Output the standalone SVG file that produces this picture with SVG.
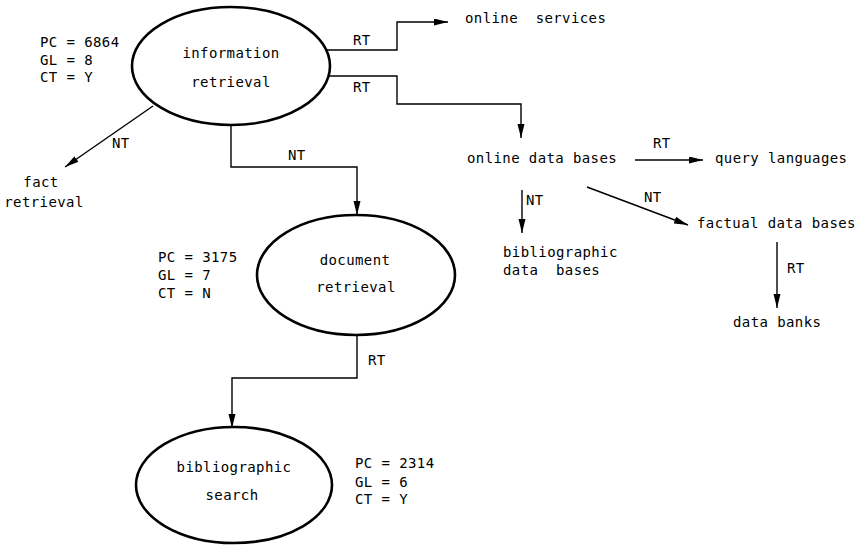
<svg xmlns="http://www.w3.org/2000/svg" width="857" height="545" viewBox="0 0 857 545">
<defs>
<style>
text{font-family:"DejaVu Sans Mono","Liberation Mono",monospace;font-size:14px;letter-spacing:0.4px;fill:#000;white-space:pre}
.node{fill:#fff;stroke:#000;stroke-width:2.6}
.c{fill:none;stroke:#000;stroke-width:1.4}
.m{text-anchor:middle}
</style>
<marker id="ah" markerUnits="userSpaceOnUse" markerWidth="15" markerHeight="8" refX="14" refY="3.5" orient="auto">
<path d="M0,0 L14,3.5 L0,7 Z" fill="#000"/>
</marker>
</defs>
<rect width="857" height="545" fill="#fff"/>
<g id="connectors">
<path class="c" d="M327,50 H397 V22 H448" marker-end="url(#ah)"/>
<path class="c" d="M327,76 H397 V104 H521 V138" marker-end="url(#ah)"/>
<path class="c" d="M153,106 L65,167" marker-end="url(#ah)"/>
<path class="c" d="M231,124 V167 H357 V215" marker-end="url(#ah)"/>
<path class="c" d="M635,160 H703" marker-end="url(#ah)"/>
<path class="c" d="M522,190 V233" marker-end="url(#ah)"/>
<path class="c" d="M587,187 L688,225" marker-end="url(#ah)"/>
<path class="c" d="M777,242 V308" marker-end="url(#ah)"/>
<path class="c" d="M357,335 V378 H232 V428" marker-end="url(#ah)"/>
<text x="353" y="45">RT</text>
<text x="353" y="92">RT</text>
<text x="112" y="148">NT</text>
<text x="288" y="160">NT</text>
<text x="653" y="148">RT</text>
<text x="526" y="205">NT</text>
<text x="644" y="202">NT</text>
<text x="787" y="273">RT</text>
<text x="368" y="365">RT</text>
</g>
<g id="information-retrieval">
<ellipse class="node" cx="231" cy="66" rx="99" ry="59"/>
<text class="m" x="231" y="58">information</text>
<text class="m" x="231" y="87">retrieval</text>
<text x="40" y="47">PC = 6864</text>
<text x="40" y="65">GL = 8</text>
<text x="40" y="82">CT = Y</text>
</g>
<g id="document-retrieval">
<ellipse class="node" cx="356" cy="275" rx="99" ry="60"/>
<text class="m" x="355" y="265">document</text>
<text class="m" x="356" y="292">retrieval</text>
<text x="158" y="262">PC = 3175</text>
<text x="158" y="280">GL = 7</text>
<text x="158" y="298">CT = N</text>
</g>
<g id="bibliographic-search">
<ellipse class="node" cx="234" cy="485" rx="98" ry="58"/>
<text class="m" x="234" y="472">bibliographic</text>
<text class="m" x="232" y="500">search</text>
<text x="355" y="468">PC = 2314</text>
<text x="355" y="487">GL = 6</text>
<text x="355" y="504">CT = Y</text>
</g>
<g id="online-services"><text x="465" y="23" xml:space="preserve">online  services</text></g>
<g id="fact-retrieval">
<text class="m" x="41" y="187">fact</text>
<text class="m" x="44" y="207">retrieval</text>
</g>
<g id="online-data-bases"><text x="467" y="163">online data bases</text></g>
<g id="query-languages"><text x="715" y="163">query languages</text></g>
<g id="bibliographic-data-bases">
<text x="503" y="257">bibliographic</text>
<text x="503" y="275" xml:space="preserve">data  bases</text>
</g>
<g id="factual-data-bases"><text x="697" y="228">factual data bases</text></g>
<g id="data-banks"><text x="733" y="327">data banks</text></g>
</svg>
